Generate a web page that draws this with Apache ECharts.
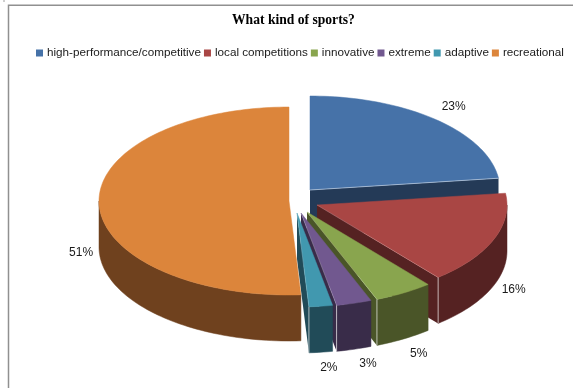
<!DOCTYPE html>
<html>
<head>
<meta charset="utf-8">
<style>html,body{margin:0;padding:0;background:#fff}#chart{width:573px;height:388px}</style>
<script src="https://cdn.jsdelivr.net/npm/echarts@6/dist/echarts.min.js"></script>
</head>
<body>
<div id="chart"></div>
<script>
const categories = ['high-performance/competitive', 'local competitions', 'innovative', 'extreme', 'adaptive', 'recreational'];
const shares = [23, 16, 5, 3, 2, 51];
const topColors = ['#4672A8', '#A94644', '#89A54E', '#71588F', '#4198AF', '#DC853B'];
const sideColors = ['#243A57', '#552222', '#4A5528', '#392C49', '#214B58', '#6F411E'];

// Pull-out of each wedge from the pie centre, in pixels
const pullX = [11, 18, 8, 2, -2, -10];
const pullY = [-13, 2, 9, 10, 10, -2];
// Percentage label placement relative to the middle of the rim
const labelDx = [18, 20, 15, 14, 8, -18];
const labelDy = [-13, 4, 15, 14, 15, 3];

const CX = 299, CY = 203, RX = 190, RY = 94, DEPTH = 46;
const total = shares.reduce((a, b) => a + b, 0);

function rimPoint(ox, oy, deg) {
  const r = deg * Math.PI / 180;
  return [ox + RX * Math.sin(r), oy - RY * Math.cos(r)];
}
function arcPoints(ox, oy, from, to) {
  const pts = [];
  const n = Math.max(2, Math.ceil((to - from) / 1.5));
  for (let i = 0; i <= n; i++) pts.push(rimPoint(ox, oy, from + (to - from) * i / n));
  return pts;
}

function renderWedge(index, api) {
  const value = api.value(0);
  const before = shares.slice(0, index).reduce((a, b) => a + b, 0);
  const a0 = before / total * 360;
  const a1 = a0 + value / total * 360;
  const ox = CX + pullX[index], oy = CY + pullY[index];
  const apex = [ox, oy];
  const top = arcPoints(ox, oy, a0, a1);
  const end = top[top.length - 1];
  const side = sideColors[index], face = topColors[index];
  const children = [];

  // Cut face on the clockwise end of the wedge
  children.push({
    type: 'polygon',
    shape: { points: [apex, end, [end[0], end[1] + DEPTH], [ox, oy + DEPTH]] },
    style: { fill: side }
  });
  // Outer wall: only the part of the rim facing the viewer
  const w0 = Math.max(a0, 90), w1 = Math.min(a1, 270);
  if (w1 > w0) {
    const rim = arcPoints(ox, oy, w0, w1);
    const lower = rim.slice().reverse().map(p => [p[0], p[1] + DEPTH]);
    children.push({
      type: 'polygon',
      shape: { points: rim.concat(lower) },
      style: { fill: side, stroke: side, lineWidth: 0.5 }
    });
  }
  // Top surface
  children.push({
    type: 'polygon',
    shape: { points: [apex].concat(top) },
    style: { fill: face, stroke: face, lineWidth: 0.5 }
  });
  // Light highlights: faint along the cut edge, brighter on the front corner
  if (index < 5) {
    children.push({
      type: 'line',
      shape: { x1: apex[0], y1: apex[1], x2: end[0], y2: end[1] },
      style: { stroke: index === 0 ? 'rgba(255,255,255,0.55)' : 'rgba(255,255,255,0.2)', lineWidth: 0.8 }
    });
  }
  if (index > 0 && index < 5) {
    children.push({
      type: 'line',
      shape: { x1: end[0], y1: end[1], x2: end[0], y2: end[1] + DEPTH },
      style: { stroke: 'rgba(255,255,255,0.8)', lineWidth: 0.8 }
    });
  }
  // Percentage label
  const mid = rimPoint(ox, oy, (a0 + a1) / 2);
  const drop = (a0 + a1) / 2 > 90 ? DEPTH : 0;
  children.push({
    type: 'text',
    style: {
      x: mid[0] + labelDx[index],
      y: mid[1] + drop + labelDy[index],
      text: value + '%',
      fill: '#1a1a1a',
      font: '12px "Liberation Sans", Arial, sans-serif',
      align: 'center',
      verticalAlign: 'middle'
    }
  });
  return { type: 'group', children };
}

const chart = echarts.init(document.getElementById('chart'), null, { renderer: 'canvas' });
chart.setOption({
  animation: false,
  backgroundColor: '#ffffff',
  title: {
    text: 'What kind of sports?',
    left: 230,
    top: 11,
    padding: 2,
    textStyle: { fontFamily: '"Liberation Serif", serif', fontWeight: 'bold', fontSize: 13.6, color: '#000000' }
  },
  legend: {
    data: categories,
    left: 36,
    top: 47,
    icon: 'rect',
    itemWidth: 7,
    itemHeight: 7,
    itemGap: 3,
    selectedMode: false,
    padding: 0,
    textStyle: { fontFamily: '"Liberation Sans", Arial, sans-serif', fontSize: 11.7, color: '#1a1a1a', padding: [0, 0, 0, -1] }
  },
  graphic: [{
    type: 'polyline',
    shape: { points: [[8.5, 388], [8.5, 5.2], [573, 5.2]] },
    style: { fill: 'none', stroke: '#909090', lineWidth: 1.5 },
    silent: true
  }, {
    type: 'rect',
    shape: { x: 3.5, y: 0, width: 1, height: 2 },
    style: { fill: '#a0a0a0' },
    silent: true
  }],
  series: categories.map((name, i) => ({
    type: 'custom',
    name,
    coordinateSystem: 'none',
    data: [shares[i]],
    itemStyle: { color: topColors[i] },
    silent: true,
    renderItem: (params, api) => renderWedge(i, api)
  }))
});
</script>
</body>
</html>
